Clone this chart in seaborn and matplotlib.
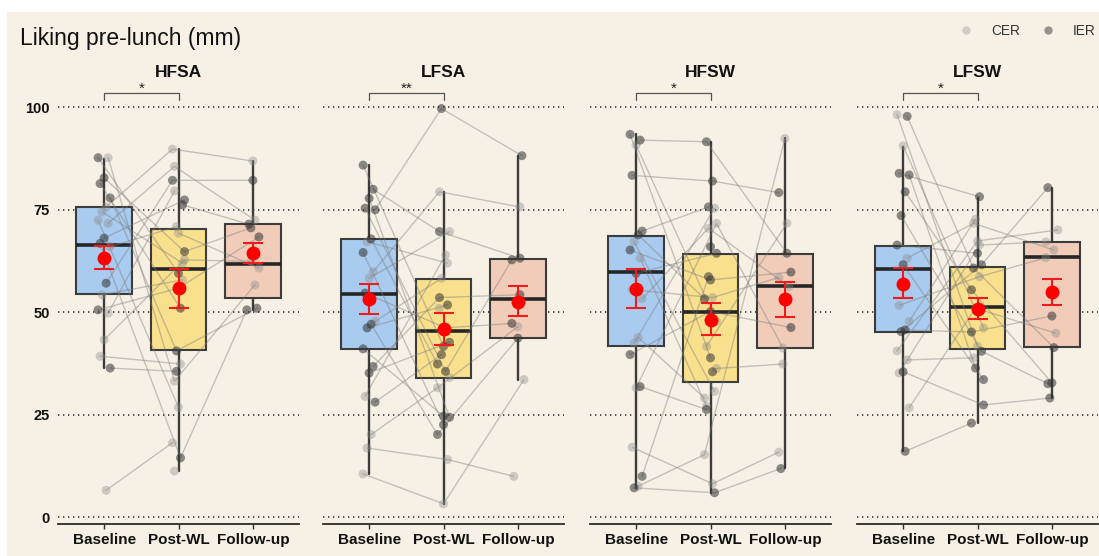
import numpy as np
import pandas as pd
import matplotlib
matplotlib.use("Agg")
import matplotlib.pyplot as plt
import seaborn as sns
from matplotlib.lines import Line2D
from matplotlib.patches import Rectangle

nan = np.nan

# ---------------- data ----------------
times = ["Baseline", "Post-WL", "Follow-up"]
panels = ["HFSA", "LFSA", "HFSW", "LFSW"]
sig_labels = ["*", "**", "*", "*"]
y_ticks = [0, 25, 50, 75, 100]
legend_groups = ["CER", "IER"]

# individual participants (values in mm)
hfsa_baseline = [87.7, 87.7, 82.8, 81.4, 77.9, 75.7, 74.5, 72.5, 71.7, 68.1, 66.8, 66.0, 57.1, 54.3, 50.6, 49.8, 43.3, 39.3, 36.4, 6.6, nan, nan, nan]
hfsa_post = [59.5, 33.2, 64.8, 51.0, 40.6, 89.8, 62.0, 26.8, 85.6, 77.4, 14.5, 70.9, 82.2, 57.9, 55.9, 79.6, 62.8, 37.4, 35.6, 18.2, 76.2, 69.3, 11.3]
hfsa_follow = [nan, 56.7, 70.6, nan, 51.0, 86.9, nan, nan, 72.5, nan, 50.6, nan, 82.2, nan, 68.4, nan, 62.4, nan, nan, nan, 71.5, 60.8, nan]
hfsa_group = ["IER", "CER", "IER", "IER", "IER", "CER", "CER", "CER", "CER", "IER", "IER", "CER", "IER", "CER", "IER", "CER", "CER", "CER", "IER", "CER", "IER", "CER", "CER"]

lfsa_baseline = [85.9, 80.0, 77.8, 75.4, 75.0, 67.9, 67.2, 64.6, 59.9, 58.3, 54.7, 47.8, 47.1, 46.2, 41.1, 36.8, 35.2, 29.5, 28.1, 20.2, 16.9, 10.6, nan, nan]
lfsa_post = [41.7, 69.7, 24.4, 35.6, 99.7, 37.4, 62.0, 22.6, 79.4, 69.7, 46.2, 58.3, 20.2, 51.8, 24.7, 53.6, 42.7, 64.0, 39.7, 31.6, 14.1, 3.3, 51.0, 34.1]
lfsa_follow = [nan, 63.2, nan, 62.8, 88.2, nan, nan, nan, 75.7, nan, 47.3, nan, 43.7, nan, nan, 54.3, nan, nan, nan, 46.5, 10.0, 33.6, nan, nan]
lfsa_group = ["IER", "IER", "IER", "IER", "IER", "IER", "CER", "IER", "CER", "CER", "IER", "CER", "IER", "IER", "IER", "IER", "IER", "CER", "IER", "CER", "CER", "CER", "CER", "CER"]

hfsw_baseline = [93.4, 92.0, 90.8, 83.4, 69.8, 68.9, 67.2, 65.2, 63.2, 59.5, 55.5, 53.3, 43.9, 42.5, 39.7, 31.9, 31.6, 17.1, 10.0, 7.6, 7.2, nan, nan, nan, nan]
hfsw_post = [38.9, 91.6, 47.8, 82.0, 75.7, 53.3, 30.7, 57.9, 27.1, 64.4, 53.6, 70.5, 29.1, 75.4, 50.2, 26.3, 71.7, 8.2, 58.7, 15.3, 6.0, 66.0, 41.7, 36.3, 35.5]
hfsw_follow = [nan, 64.4, nan, 79.2, nan, nan, nan, 59.8, nan, nan, 58.5, 56.3, nan, nan, 46.3, nan, 41.3, 15.9, nan, 92.4, 11.9, nan, 71.7, 37.4, nan]
hfsw_group = ["IER", "IER", "CER", "IER", "IER", "IER", "CER", "IER", "CER", "IER", "CER", "CER", "CER", "CER", "IER", "IER", "CER", "CER", "IER", "CER", "IER", "IER", "CER", "CER", "IER"]

lfsw_baseline = [98.2, 97.8, 90.6, 83.9, 83.5, 79.4, 73.6, 66.4, 63.2, 61.6, 51.7, 47.8, 45.7, 45.3, 40.6, 38.4, 35.5, 35.2, 26.7, 16.1]
lfsw_post = [41.7, 60.8, 46.2, 78.2, 36.4, 55.5, 40.5, 64.4, 71.7, 33.6, 58.7, 72.7, 45.2, 61.6, 67.4, 38.9, 27.4, 66.4, 51.0, 23.0]
lfsw_follow = [nan, 41.4, nan, nan, nan, 32.8, 32.6, nan, 65.2, nan, 63.3, nan, 49.1, 80.4, 70.1, nan, 29.1, 67.2, 44.9, nan]
lfsw_group = ["CER", "IER", "CER", "IER", "IER", "IER", "IER", "IER", "CER", "IER", "CER", "CER", "IER", "IER", "CER", "CER", "IER", "CER", "CER", "IER"]

# box summaries per time point (Baseline, Post-WL, Follow-up)
hfsa_q1 = [54.4, 40.7, 53.5]; hfsa_med = [66.3, 60.6, 61.7]; hfsa_q3 = [75.7, 70.2, 71.5]
hfsa_wlo = [36.4, 11.3, 50.6]; hfsa_whi = [87.5, 89.8, 86.8]
hfsa_mean = [63.2, 56.0, 64.4]; hfsa_ci_lo = [60.5, 51.0, 62.1]; hfsa_ci_hi = [66.1, 60.5, 67.0]

lfsa_q1 = [41.0, 34.0, 43.7]; lfsa_med = [54.5, 45.5, 53.3]; lfsa_q3 = [67.9, 58.2, 63.0]
lfsa_wlo = [10.6, 3.3, 33.6]; lfsa_whi = [85.9, 79.4, 88.2]
lfsa_mean = [53.3, 46.0, 52.6]; lfsa_ci_lo = [49.6, 42.1, 49.0]; lfsa_ci_hi = [56.9, 49.8, 56.3]

hfsw_q1 = [41.9, 33.0, 41.3]; hfsw_med = [59.8, 50.2, 56.3]; hfsw_q3 = [68.7, 64.2, 64.2]
hfsw_wlo = [7.2, 6.0, 12.1]; hfsw_whi = [93.4, 91.6, 92.4]
hfsw_mean = [55.7, 48.2, 53.2]; hfsw_ci_lo = [51.0, 44.4, 48.8]; hfsw_ci_hi = [60.6, 52.2, 57.3]

lfsw_q1 = [45.2, 41.0, 41.5]; lfsw_med = [60.6, 51.2, 63.4]; lfsw_q3 = [66.2, 61.0, 67.2]
lfsw_wlo = [16.1, 23.0, 29.1]; lfsw_whi = [90.3, 77.8, 80.4]
lfsw_mean = [56.9, 50.9, 54.9]; lfsw_ci_lo = [53.5, 48.4, 51.7]; lfsw_ci_hi = [60.8, 53.5, 58.1]

panel_data = {
    "HFSA": (hfsa_baseline, hfsa_post, hfsa_follow, hfsa_group, hfsa_q1, hfsa_med, hfsa_q3, hfsa_wlo, hfsa_whi, hfsa_mean, hfsa_ci_lo, hfsa_ci_hi),
    "LFSA": (lfsa_baseline, lfsa_post, lfsa_follow, lfsa_group, lfsa_q1, lfsa_med, lfsa_q3, lfsa_wlo, lfsa_whi, lfsa_mean, lfsa_ci_lo, lfsa_ci_hi),
    "HFSW": (hfsw_baseline, hfsw_post, hfsw_follow, hfsw_group, hfsw_q1, hfsw_med, hfsw_q3, hfsw_wlo, hfsw_whi, hfsw_mean, hfsw_ci_lo, hfsw_ci_hi),
    "LFSW": (lfsw_baseline, lfsw_post, lfsw_follow, lfsw_group, lfsw_q1, lfsw_med, lfsw_q3, lfsw_wlo, lfsw_whi, lfsw_mean, lfsw_ci_lo, lfsw_ci_hi),
}

# ---------------- style ----------------
sns.set_theme(style="white")
plt.rcParams["font.family"] = ["Liberation Sans", "DejaVu Sans"]

BG = "#f7f1e5"
box_colors = ["#a9cbef", "#f9e08c", "#f1cdb9"]
edge = "#3c3c3c"
group_style = {"CER": ("#8a8a8a", 0.38), "IER": ("#333333", 0.55)}

W, H = 1099, 556
fig = plt.figure(figsize=(W / 100, H / 100), dpi=100, facecolor="white")
fig.patches.append(Rectangle((7 / W, 0), 1 - 7 / W, 1 - 12 / H, transform=fig.transFigure,
                             facecolor=BG, edgecolor="none", zorder=-10))

left_px = [58, 323, 590, 857]
ax_w = 241 / W
ax_bottom = (H - 523.5) / H
ax_h = 432.6 / H
ylim = (-1.5, 104)

for i, name in enumerate(panels):
    (base, post, foll, grp, q1, med, q3, wlo, whi, mean, cilo, cihi) = panel_data[name]
    ax = fig.add_axes([left_px[i] / W, ax_bottom, ax_w, ax_h])
    ax.set_facecolor("none")

    # long-format table of participants
    rows = []
    for k in range(len(post)):
        for t, series in enumerate([base, post, foll]):
            v = series[k]
            if not np.isnan(v):
                jit = (((k * 5 + t * 3) % 7) - 3) * 0.027
                rows.append({"pid": k, "time": t, "x": t + jit, "value": v, "group": grp[k]})
    df = pd.DataFrame(rows).sort_values(["pid", "time"])

    # grid lines
    for yt in y_ticks:
        ax.axhline(yt, color="#333333", lw=1.2, ls=(0, (0.8, 2.2)), zorder=0)

    # boxes
    stats = []
    for t in range(3):
        stats.append({"q1": q1[t], "med": med[t], "q3": q3[t],
                      "whislo": wlo[t], "whishi": whi[t], "fliers": []})
    bp = ax.bxp(stats, positions=[0, 1, 2], widths=0.75, patch_artist=True,
                showfliers=False, showcaps=False,
                boxprops=dict(edgecolor=edge, linewidth=1.5),
                whiskerprops=dict(color=edge, linewidth=1.7),
                medianprops=dict(color="#262626", linewidth=2.6))
    for patch, c in zip(bp["boxes"], box_colors):
        patch.set_facecolor(c)
        patch.set_zorder(2)
    for w in bp["whiskers"]:
        w.set_zorder(1)
    for m in bp["medians"]:
        m.set_zorder(2.5)

    # participant lines
    sns.lineplot(data=df, x="x", y="value", units="pid", estimator=None, sort=False,
                 color="#7c7c7c", alpha=0.42, lw=1.0, ax=ax, legend=False, zorder=3)
    # participant points
    for g in legend_groups:
        sub = df[df["group"] == g]
        col, al = group_style[g]
        sns.scatterplot(data=sub, x="x", y="value", color=col, alpha=al, s=42,
                        edgecolor="none", ax=ax, legend=False, zorder=4)

    # means with CI
    yerr = [np.array(mean) - np.array(cilo), np.array(cihi) - np.array(mean)]
    ax.errorbar([0, 1, 2], mean, yerr=yerr, fmt="o", color="#ff0000", ecolor="#ee1c1c",
                markersize=9, elinewidth=1.5, capsize=7, capthick=1.5, zorder=6)

    # significance bracket
    ax.plot([0, 0, 1, 1], [101.9, 103.6, 103.6, 101.9], color="#555555", lw=0.9,
            clip_on=False, zorder=5)
    ax.text(0.5, 104.6, sig_labels[i], ha="center", va="center", fontsize=11,
            color="#222222", clip_on=False)
    ax.text(1.0, 108.6, name, ha="center", va="center", fontsize=12.5,
            fontweight="bold", color="#111111", clip_on=False)

    ax.set_xlim(-0.62, 2.62)
    ax.set_ylim(*ylim)
    ax.set_xticks([0, 1, 2])
    ax.set_xticklabels(times, fontweight="bold", fontsize=11, color="#111111")
    ax.set_xlabel("")
    ax.set_ylabel("")
    ax.set_yticks(y_ticks)
    if i == 0:
        ax.set_yticklabels([str(v) for v in y_ticks], fontweight="bold", fontsize=10.5,
                           color="#111111")
    else:
        ax.set_yticklabels([])
    ax.tick_params(axis="y", length=0, pad=6)
    ax.tick_params(axis="x", length=3.5, width=1.0, color="#333333", pad=3, direction="out",
                   bottom=True)
    for s in ["top", "right", "left"]:
        ax.spines[s].set_visible(False)
    ax.spines["bottom"].set_color("#2a2a2a")
    ax.spines["bottom"].set_linewidth(1.3)

fig.text(20 / W, 1 - 38 / H, "Liking pre-lunch (mm)", fontsize=16.5, ha="left", va="center",
         color="#111111")

handles = [Line2D([], [], marker="o", ls="", color=group_style[g][0], alpha=group_style[g][1] * 0.9,
                  markersize=6, markeredgecolor="none") for g in legend_groups]
fig.legend(handles, legend_groups, loc="center right", bbox_to_anchor=(0.997, 1 - 31 / H),
           ncol=2, frameon=False, fontsize=9.8, handletextpad=0.85, columnspacing=1.05,
           borderaxespad=0, borderpad=0, labelcolor="#333333")

fig.savefig("out.png", dpi=100, facecolor="white")
